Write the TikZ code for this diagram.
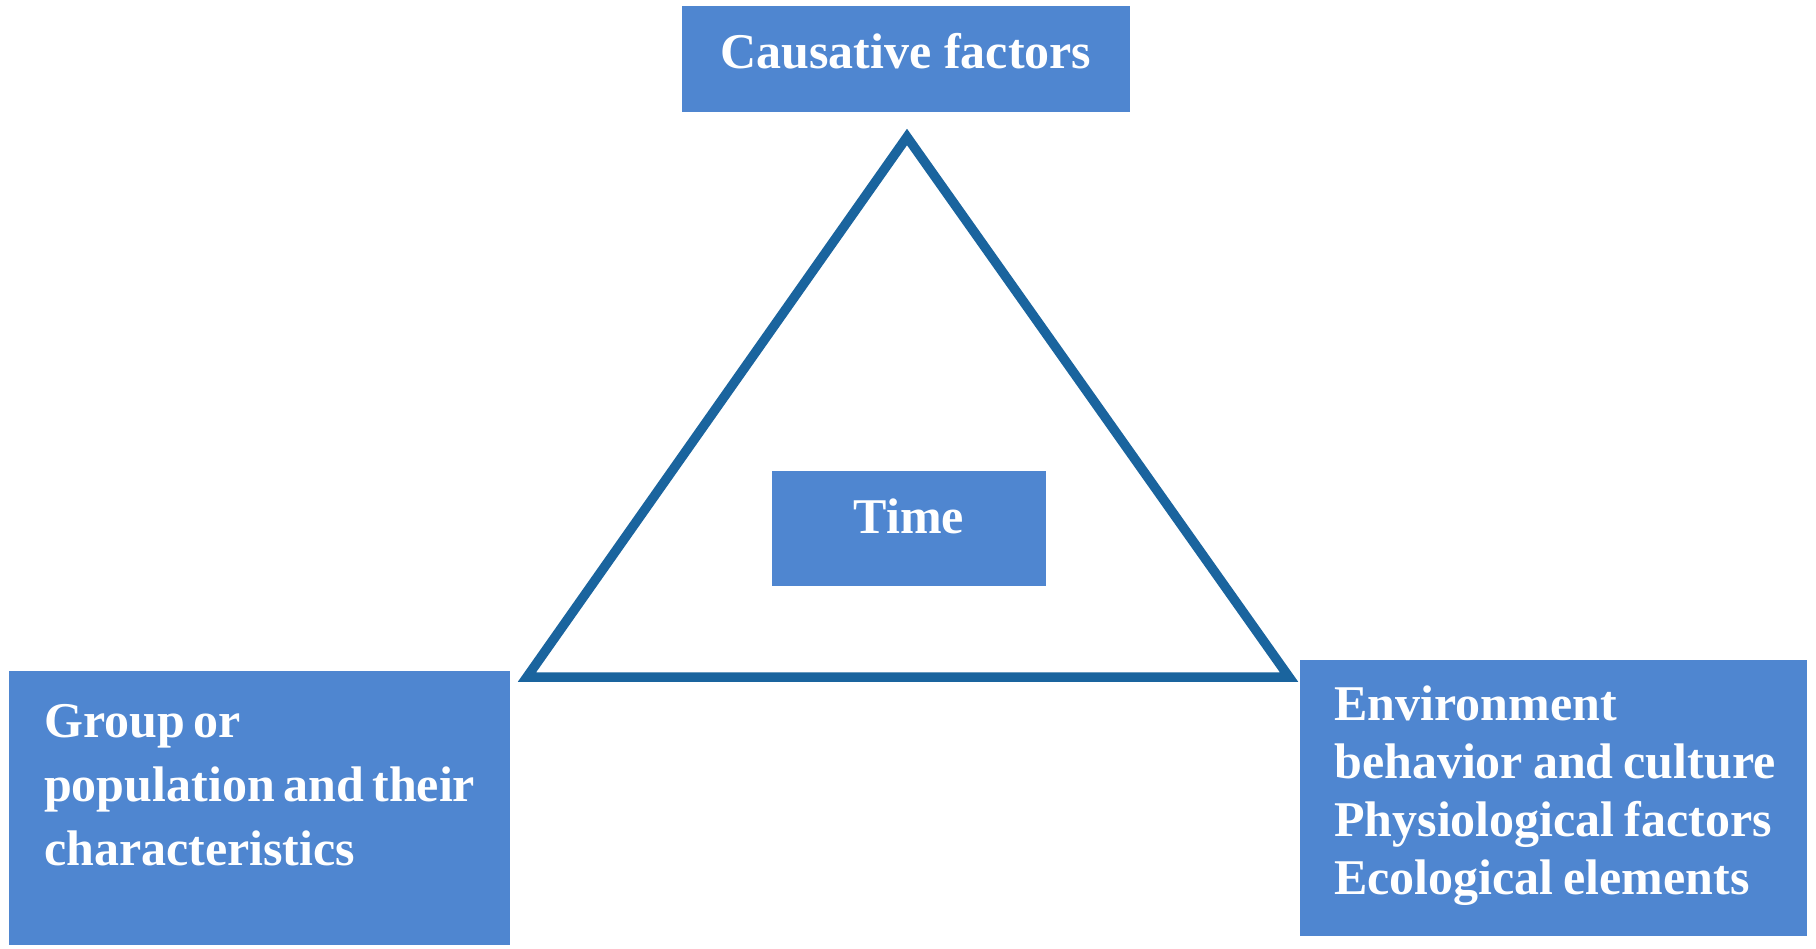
\documentclass[tikz,border=0pt]{standalone}
\usepackage{fontspec}
\setmainfont{Liberation Serif}
\definecolor{boxblue}{RGB}{79,134,208}
\definecolor{triblue}{RGB}{26,100,158}
\begin{document}
\begin{tikzpicture}[x=1pt,y=-1pt,
  boxtext/.style={text=white,inner sep=0pt,font=\bfseries\fontsize{50}{58}\selectfont}]
\useasboundingbox[fill=white] (0,0) rectangle (1816,949);
% boxes
\path[fill=boxblue] (682,6) rectangle (1130,112) node[pos=0.5,inner sep=0pt] (cause) {};
\path[fill=boxblue] (772,471) rectangle (1046,586) node[pos=0.5,inner sep=0pt] (time) {};
\path[fill=boxblue] (9,671) rectangle (510,945) node[pos=0.5,inner sep=0pt] (group) {};
\path[fill=boxblue] (1300,660) rectangle (1807,936) node[pos=0.5,inner sep=0pt] (env) {};
% triangle
\coordinate (apex) at (907,137);
\coordinate (left) at (527,677);
\coordinate (right) at (1289,677);
\draw[triblue,line width=9.5pt,line join=miter] (apex) -- (left) -- (right) -- cycle;
% texts
\node[boxtext,anchor=base] (causetxt) at (906,69) {Causative factors};
\node[boxtext,anchor=base] (timetxt) at (909,533) {Time};
\node[boxtext,anchor=base west,align=left,font={\bfseries\fontsize{50}{64}\selectfont\spaceskip=0.17em\relax}] (grouptxt) at (44,865) {Group or\\population and their\\characteristics};
\node[boxtext,anchor=base west,align=left,font={\bfseries\fontsize{50}{58}\selectfont\spaceskip=0.2em\relax}] (envtxt) at (1334,894) {Environment\\behavior and culture\\Physiological factors\\Ecological elements};
\end{tikzpicture}
\end{document}
